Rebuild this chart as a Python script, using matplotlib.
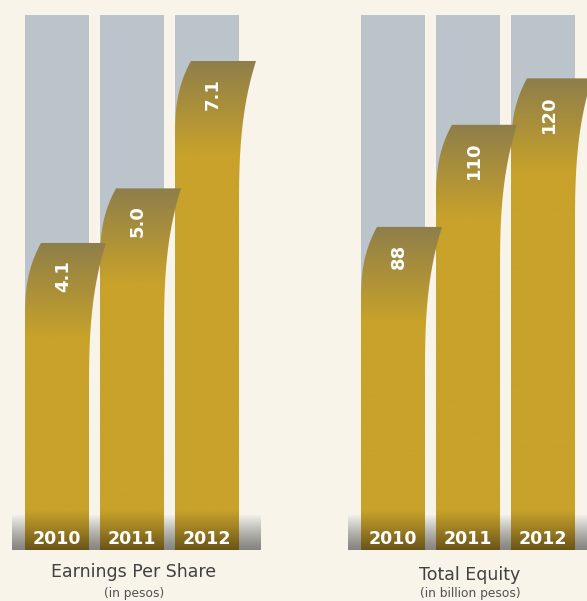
import numpy as np
import matplotlib
matplotlib.use("Agg")
import matplotlib.pyplot as plt
from matplotlib.patches import Polygon
from matplotlib.colors import to_rgb
import matplotlib.transforms as mtransforms

years = ["2010", "2011", "2012"]
eps = [4.1, 5.0, 7.1]
eps_labels = ["4.1", "5.0", "7.1"]
equity = [88, 110, 120]
equity_labels = ["88", "110", "120"]

BG = "#f8f4ea"
GREY_BAR = "#bcc4cb"
GOLD = np.array(to_rgb("#c8a22b"))
OLIVE = np.array(to_rgb("#8e7e4a"))
DARK = np.array(to_rgb("#6a5419"))

W, H = 587, 601
AX_TOP, AX_BOT = 15, 550          # pixel rows of the panel area
AX_H = AX_BOT - AX_TOP
AX_W = 249
PPX = 75.0                        # pixels per category step
BAND = 36                         # height of the dark bottom band (px)

fig = plt.figure(figsize=(W / 100, H / 100), dpi=100)
fig.patch.set_facecolor(BG)


def off_curve(d, a, length, p):
    t = np.clip(1 - d / length, 0, 1)
    return a * t ** p


def draw_panel(left_px, values, labels, ylim):
    ax = fig.add_axes([left_px / W, (H - AX_BOT) / H, AX_W / W, AX_H / H])
    ax.set_facecolor("none")
    ax.axis("off")
    ymin, ymax = ylim
    ppu = AX_H / (ymax - ymin)
    x = np.arange(len(values))
    w = 64 / PPX

    # grey backdrop bars
    ax.bar(x, ymax - ymin, bottom=ymin, width=w, color=GREY_BAR, zorder=1)

    # grey fading band at the bottom
    g = np.linspace(0, 1, 100)[:, None]
    top_c = np.array(to_rgb("#f9f7f0"))
    bot_c = np.array(to_rgb("#858480"))
    band = top_c * g ** 1.2 + bot_c * (1 - g ** 1.2)
    band = band[:, None, :] * np.ones((1, 2, 1))
    ax.imshow(band, extent=[0, 1, 0, BAND / AX_H], transform=ax.transAxes,
              aspect="auto", origin="lower", zorder=1.5)

    # gold ribbons, drawn right to left so each tip lies over its neighbour
    for i in reversed(range(len(values))):
        v = values[i]
        xc = x[i]
        ys = np.linspace(ymin, v, 400)
        d = (v - ys) * ppu
        xl = xc - w / 2 + off_curve(d, 16, 75, 2.6) / PPX
        xr = xc + w / 2 + off_curve(d, 17, 150, 2.8) / PPX
        verts = np.vstack([np.column_stack([xl, ys]),
                           np.column_stack([xr[::-1], ys[::-1]])])
        poly = Polygon(verts, closed=True, facecolor="none",
                       edgecolor="none", zorder=2 + (3 - i))
        ax.add_patch(poly)

        rows = np.linspace(ymin, v, 600)
        dt = (v - rows) * ppu
        db = (rows - ymin) * ppu
        t = np.clip(dt / 95, 0, 1)[:, None]
        col = OLIVE * (1 - t) + GOLD * t
        s = np.clip((BAND + 4 - db) / (BAND + 4), 0, 1)[:, None] ** 1.1
        col = col * (1 - s) + DARK * s
        img = col[:, None, :] * np.ones((1, 2, 1))
        im = ax.imshow(img, extent=[xc - w / 2, xc + w / 2 + 18 / PPX, ymin, v],
                       aspect="auto", origin="lower", zorder=2 + (3 - i))
        im.set_clip_path(poly)

        ax.text(xc + 6 / PPX, v - 17 / ppu, labels[i], rotation=90,
                ha="center", va="top", color="white", fontsize=13,
                fontweight="bold", zorder=10)

    trans = mtransforms.blended_transform_factory(ax.transData, ax.transAxes)
    for i, yr in enumerate(years):
        ax.text(x[i], 11 / AX_H, yr, transform=trans, ha="center", va="center",
                color="white", fontsize=12.5, fontweight="bold", zorder=10)

    ax.set_xlim(-0.6, -0.6 + AX_W / PPX)
    ax.set_ylim(ymin, ymax)
    return ax


draw_panel(12, eps, eps_labels, (-0.961, 7.858))
draw_panel(348, equity, equity_labels, (18.40, 133.65))

fig.text(134 / W, 1 - 572 / H, "Earnings Per Share", ha="center", va="center",
         fontsize=12.5, color="#404040")
fig.text(134 / W, 1 - 593 / H, "(in pesos)", ha="center", va="center",
         fontsize=8.8, color="#505050")
fig.text(470 / W, 1 - 575 / H, "Total Equity", ha="center", va="center",
         fontsize=12.5, color="#404040")
fig.text(470 / W, 1 - 594 / H, "(in billion pesos)", ha="center", va="center",
         fontsize=8.8, color="#505050")

fig.savefig("out.png", dpi=100, facecolor=BG)
